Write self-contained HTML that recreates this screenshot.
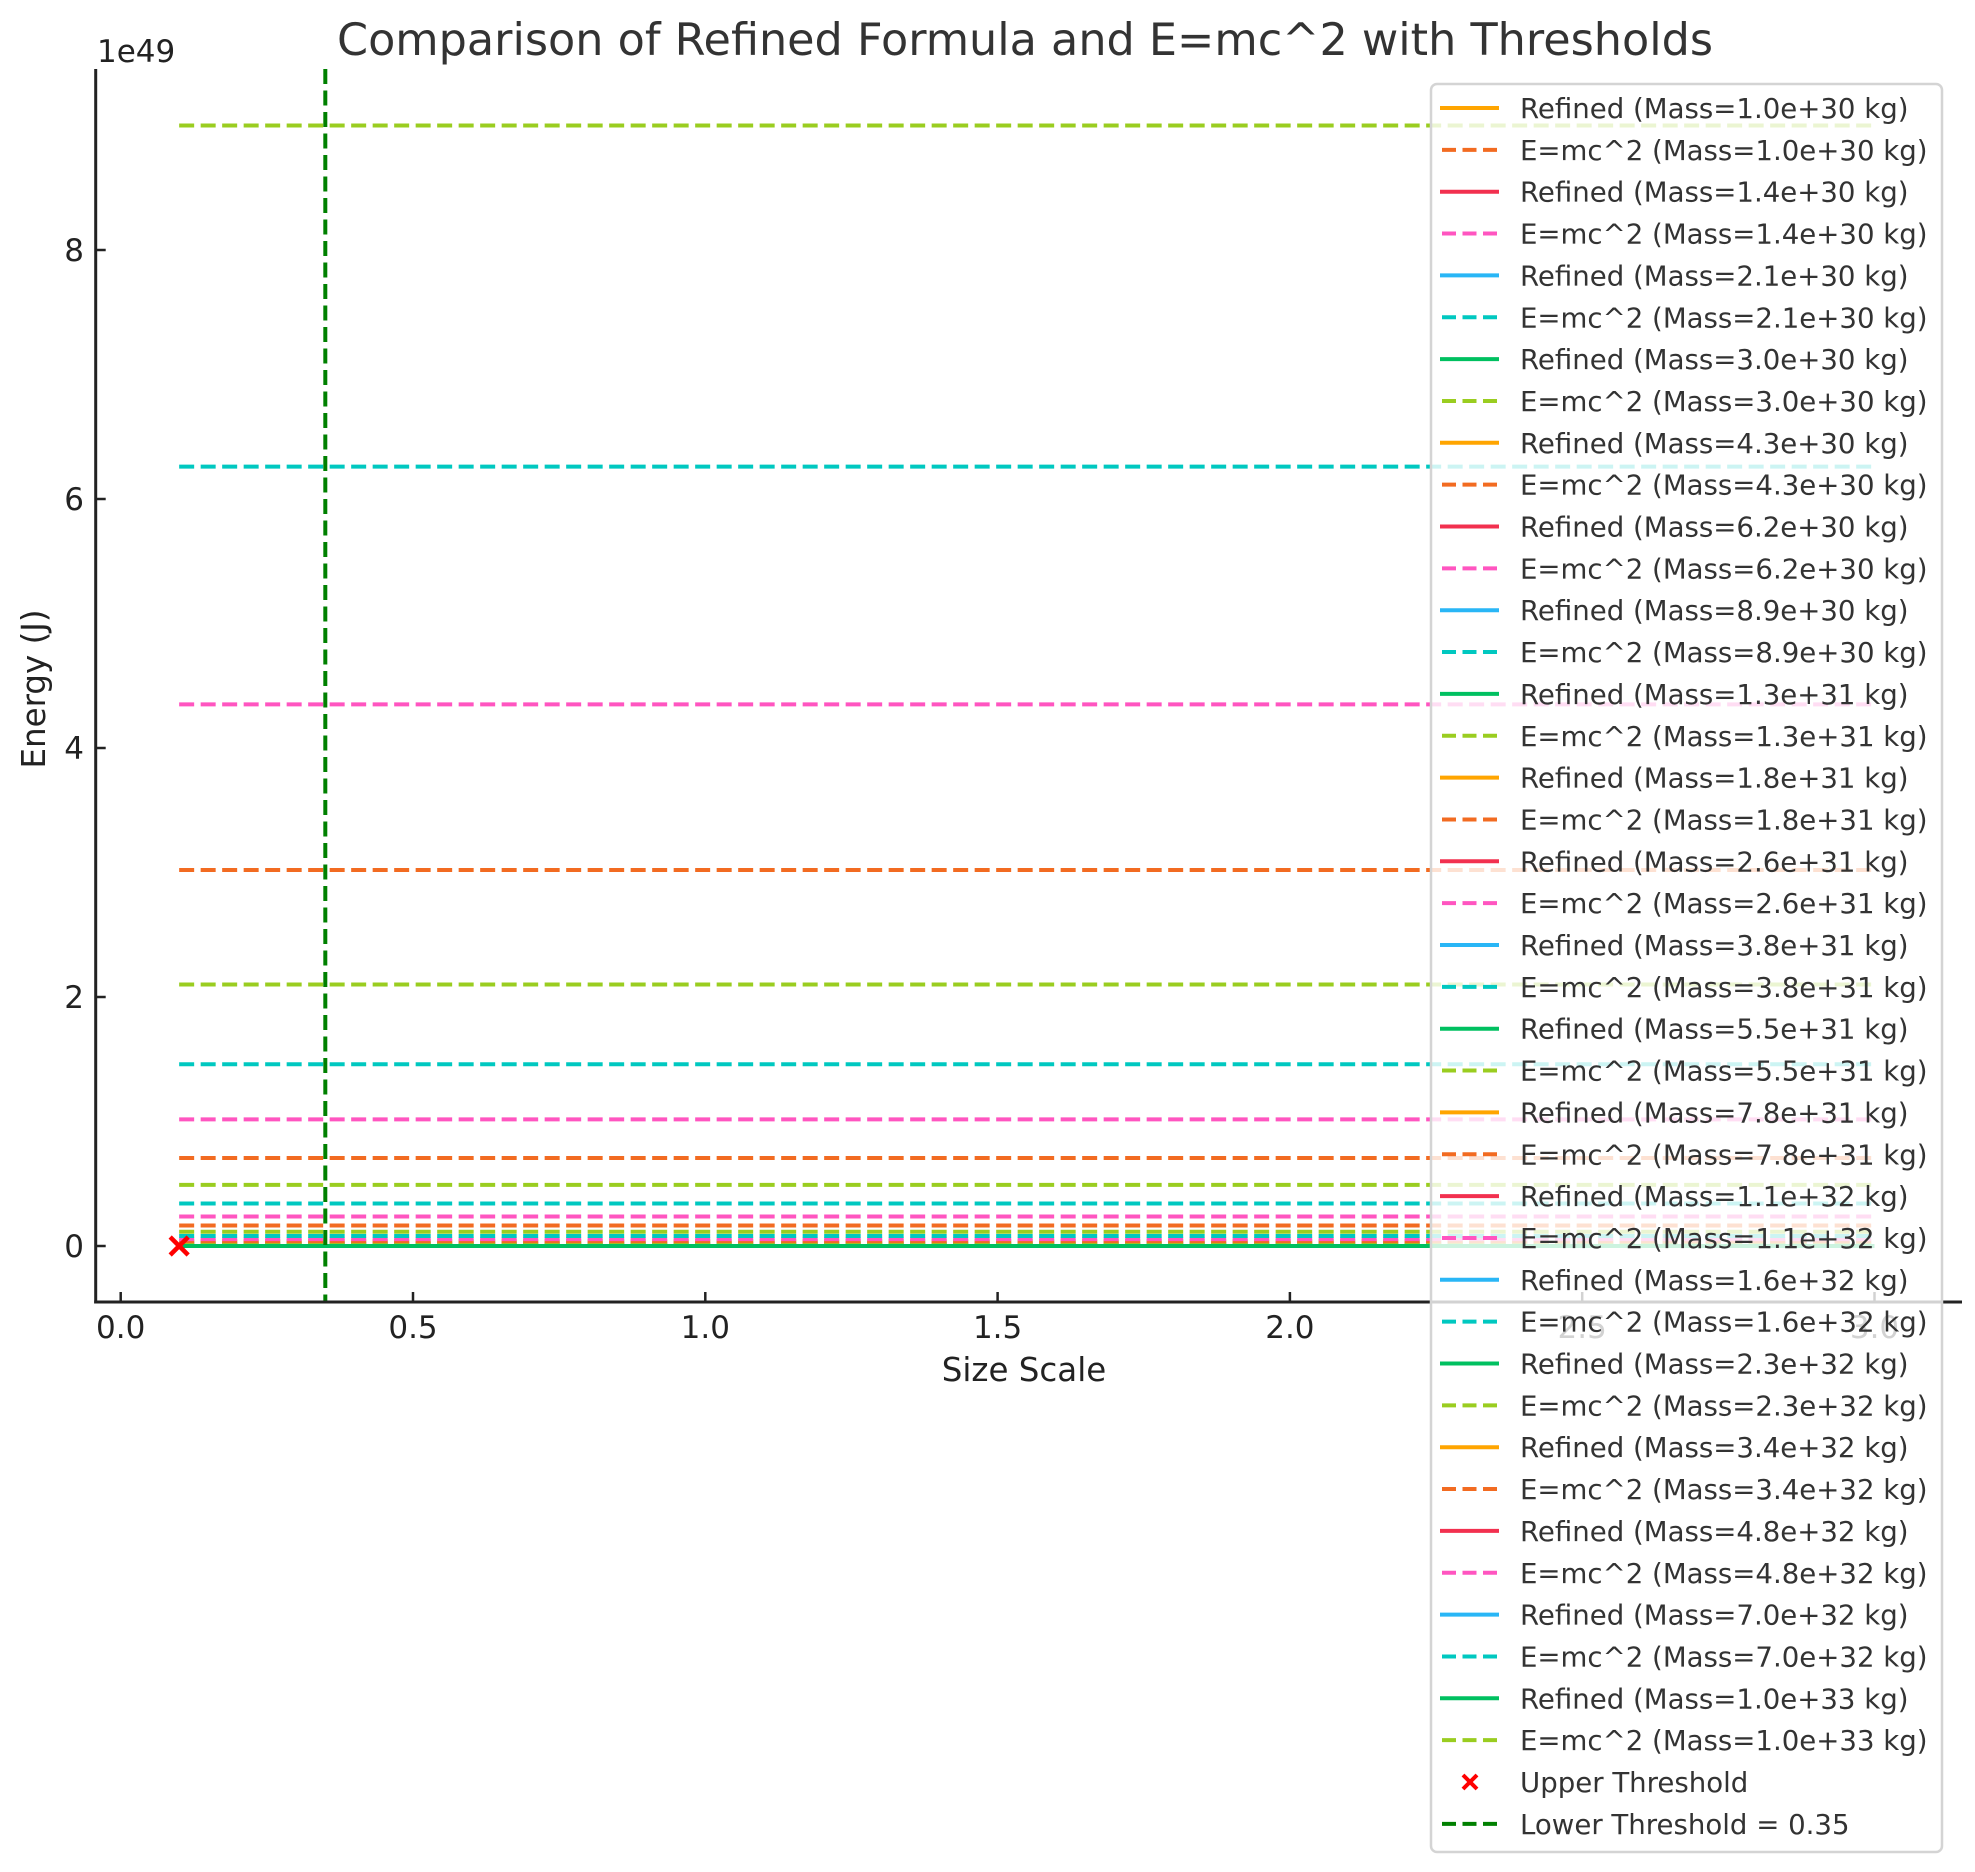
<!DOCTYPE html>
<html><head><meta charset="utf-8"><style>
html,body{margin:0;padding:0;background:#fff;}
svg{display:block;font-family:"DejaVu Sans","Liberation Sans",sans-serif;}
</style></head><body>
<svg id="chart" width="1975" height="1872" viewBox="0 0 1975 1872" xmlns="http://www.w3.org/2000/svg">
<rect x="0" y="0" width="1975" height="1872" fill="#fff"/>
<text x="1025" y="55" text-anchor="middle" font-size="44.5" fill="#333" textLength="1376">Comparison of Refined Formula and E=mc^2 with Thresholds</text>
<g id="plot"></g>
<g id="axes"></g>
<g id="legend"></g>
</svg>
<script>
const masses = ["1.0e+30","1.4e+30","2.1e+30","3.0e+30","4.3e+30","6.2e+30","8.9e+30","1.3e+31","1.8e+31","2.6e+31","3.8e+31","5.5e+31","7.8e+31","1.1e+32","1.6e+32","2.3e+32","3.4e+32","4.8e+32","7.0e+32","1.0e+33"];
const emcValues = [0.009,0.013,0.019,0.027,0.039,0.055,0.080,0.114,0.165,0.237,0.341,0.491,0.707,1.017,1.46,2.10,3.02,4.35,6.26,9.0];
const refinedValues = [0,0,0,0,0,0,0,0,0,0,0,0,0,0,0,0,0,0,0,0];
const xRange = [0.1, 3.0];
const upperThreshold = [0.1, 0];
const lowerThreshold = 0.35;
const xTicks = [0.0,0.5,1.0,1.5,2.0,2.5,3.0];
const xTickLabels = ["0.0","0.5","1.0","1.5","2.0","2.5","3.0"];
const yTicks = [0,2,4,6,8];
const yTickLabels = ["0","2","4","6","8"];

const NS="http://www.w3.org/2000/svg";
const X0=120.7, XS=584.6, Y0=1246, YS=124.5;
const L=95.7, R=1962, T=69, B=1302;
function sx(v){return X0+v*XS;}
function sy(v){return Y0-v*YS;}
function mk(tag,attrs,parent){const e=document.createElementNS(NS,tag);for(const k in attrs)e.setAttribute(k,attrs[k]);parent.appendChild(e);return e;}
const refinedColors=["#FFA500","#F2304F","#29B6F6","#00C060"];
const emcColors=["#F26B21","#FF55C0","#00C8C0","#9ACD20"];
const plot=document.getElementById('plot'), axes=document.getElementById('axes'), leg=document.getElementById('legend');

for(let i=0;i<masses.length;i++){
  const r=mk('line',{x1:sx(xRange[0]),x2:sx(xRange[1]),y1:sy(refinedValues[i]),y2:sy(refinedValues[i]),stroke:refinedColors[i%4],'stroke-width':4},plot);
  
  
  const d=mk('line',{x1:sx(xRange[0]),x2:sx(xRange[1]),y1:sy(emcValues[i]),y2:sy(emcValues[i]),stroke:emcColors[i%4],'stroke-width':4,'stroke-dasharray':'15 6.5'},plot);
  
  
}
const vl=mk('line',{x1:sx(lowerThreshold),x2:sx(lowerThreshold),y1:T,y2:B,stroke:'#008000','stroke-width':4,'stroke-dasharray':'15 6.5'},plot);


const mx=sx(upperThreshold[0]), my=sy(upperThreshold[1]);
const mg=mk('g',{stroke:'#FF0000','stroke-width':4.5},plot);


mk('line',{x1:mx-9,y1:my-9,x2:mx+9,y2:my+9},mg);
mk('line',{x1:mx-9,y1:my+9,x2:mx+9,y2:my-9},mg);

const ys=mk('line',{x1:L,x2:L,y1:T,y2:B+1.5,stroke:'#222','stroke-width':3},axes);


const xs=mk('line',{x1:L-1.5,x2:R,y1:B,y2:B,stroke:'#222','stroke-width':3},axes);


xTicks.forEach((v,i)=>{
  const t=mk('line',{x1:sx(v),x2:sx(v),y1:B,y2:B-10,stroke:'#222','stroke-width':2.5},axes);
  
  
  const tx=mk('text',{x:sx(v),y:1338,'text-anchor':'middle','font-size':31,fill:'#222'},axes);
  tx.textContent=xTickLabels[i];
  
  
});
yTicks.forEach((v,i)=>{
  const t=mk('line',{x1:L,x2:L+10,y1:sy(v),y2:sy(v),stroke:'#222','stroke-width':2.5},axes);
  
  
  const tx=mk('text',{x:84,y:sy(v)+11,'text-anchor':'end','font-size':31,fill:'#222'},axes);
  tx.textContent=yTickLabels[i];
  
  
});
const off=mk('text',{x:97,y:62,'font-size':31,fill:'#222'},axes);
off.textContent='1e49';


const xl=mk('text',{x:1024,y:1381,'text-anchor':'middle','font-size':32.5,fill:'#222'},axes);
xl.textContent='Size Scale';


const yl=mk('text',{x:0,y:0,'text-anchor':'middle','font-size':32.5,fill:'#222',transform:'translate(45,689) rotate(-90)'},axes);
yl.textContent='Energy (J)';



const lb=mk('rect',{x:1431,y:84,width:511,height:1768,rx:6,fill:'#fff','fill-opacity':0.8,stroke:'#d4d4d4','stroke-width':2.5},leg);


const entries=[];
masses.forEach((m,i)=>{
  entries.push({label:'Refined (Mass='+m+' kg)',color:refinedColors[i%4],type:'solid'});
  entries.push({label:'E=mc^2 (Mass='+m+' kg)',color:emcColors[i%4],type:'dash'});
});
entries.push({label:'Upper Threshold',color:'#FF0000',type:'x'});
entries.push({label:'Lower Threshold = 0.35',color:'#008000',type:'dash'});
entries.forEach((e,i)=>{
  const cy=108+i*41.85;
  const g=mk('g',{},leg);
  
  
  if(e.type==='x'){
    mk('line',{x1:1463,y1:cy-7,x2:1477,y2:cy+7,stroke:e.color,'stroke-width':4},g);
    mk('line',{x1:1463,y1:cy+7,x2:1477,y2:cy-7,stroke:e.color,'stroke-width':4},g);
  } else if(e.type==='dash'){
    mk('line',{x1:1442,x2:1499,y1:cy,y2:cy,stroke:e.color,'stroke-width':4,'stroke-dasharray':'14 6.5'},g);
  } else {
    mk('line',{x1:1440,x2:1499,y1:cy,y2:cy,stroke:e.color,'stroke-width':4},g);
  }
  const t=mk('text',{x:1520,y:cy+10,'font-size':27.6,fill:'#333'},g);
  t.textContent=e.label;
});
</script>
</body></html>
